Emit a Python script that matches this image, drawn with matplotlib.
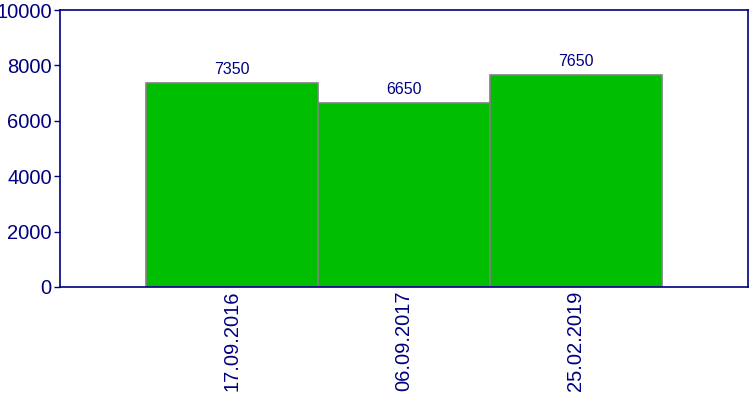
import matplotlib
matplotlib.use('Agg')
import matplotlib.pyplot as plt

# data
dates = ['17.09.2016', '06.09.2017', '25.02.2019']
values = [7350, 6650, 7650]

navy = '#000080'
plt.rcParams['font.family'] = ['Liberation Sans', 'DejaVu Sans']

fig = plt.figure(figsize=(7.5, 4), dpi=100)
ax = fig.add_axes([0.08, 0.2825, 0.9173, 0.6925])

x = list(range(len(dates)))
ax.bar(x, values, width=1.0, color='#00bf00', edgecolor='#808080', linewidth=1.2)

for xi, v in zip(x, values):
    ax.annotate(str(v), (xi, v), xytext=(0, 4.5), textcoords='offset points',
                ha='center', va='bottom', fontsize=11.5, color=navy)

ax.set_xlim(-1, 3)
ax.set_ylim(0, 10000)
ax.set_yticks([0, 2000, 4000, 6000, 8000, 10000])
ax.set_xticks(x)
ax.set_xticklabels(dates, rotation=90, fontsize=14.5, color=navy)
ax.tick_params(axis='y', labelsize=14.5, labelcolor=navy, color=navy, length=4, width=1, pad=2)
ax.tick_params(axis='x', length=0, pad=2.5)
for s in ax.spines.values():
    s.set_color(navy)
    s.set_linewidth(1.2)

fig.savefig('out.png', dpi=100)
